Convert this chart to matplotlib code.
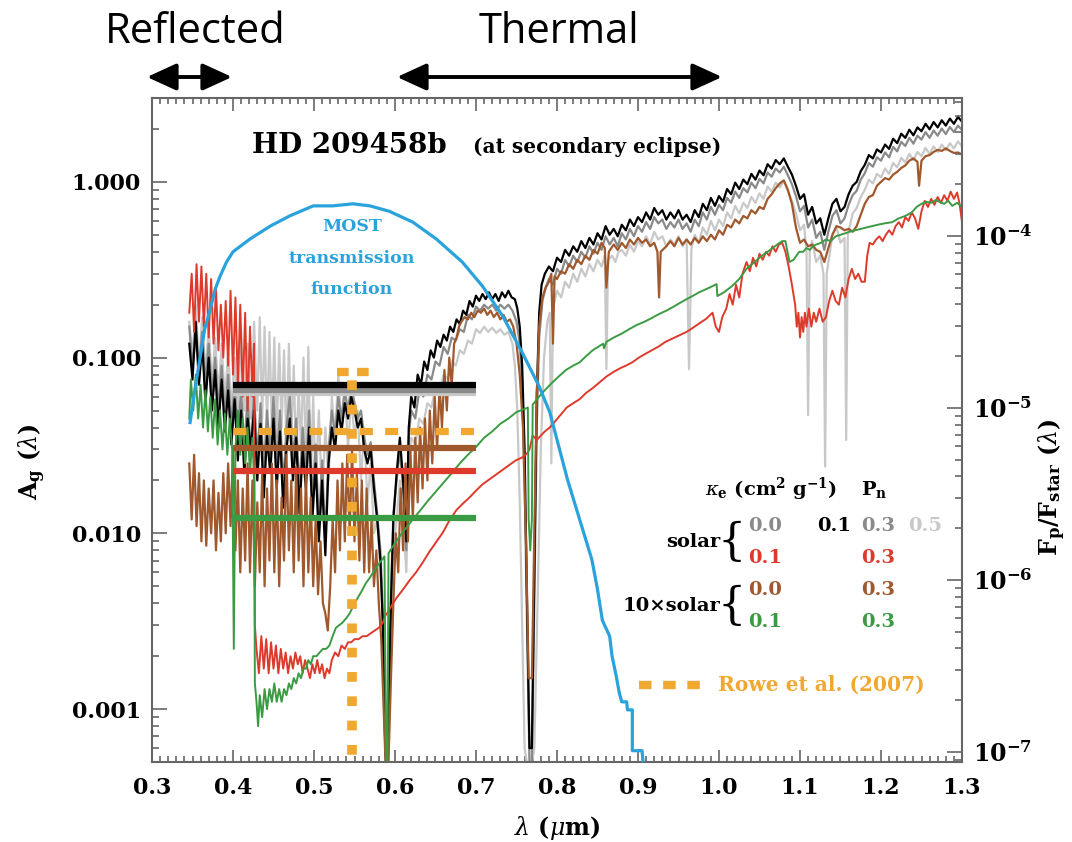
import numpy as np
import matplotlib.pyplot as plt
from matplotlib.patches import FancyArrowPatch
from matplotlib.ticker import MultipleLocator, LogLocator, NullFormatter, FuncFormatter

plt.rcParams['font.family'] = 'DejaVu Serif'
plt.rcParams['mathtext.fontset'] = 'dejavuserif'

# model spectra, (wavelength [um], geometric albedo)
black = [
    (0.346, 0.12), (0.350, 0.075), (0.354, 0.16), (0.358, 0.07), (0.362, 0.12), (0.366, 0.055), (0.370, 0.10), (0.374, 0.05), (0.378, 0.085), (0.382, 0.04),
    (0.386, 0.075), (0.390, 0.038), (0.394, 0.065), (0.398, 0.032), (0.402, 0.058), (0.406, 0.026), (0.410, 0.05), (0.414, 0.022), (0.418, 0.045), (0.422, 0.03),
    (0.426, 0.05), (0.430, 0.02), (0.434, 0.042), (0.438, 0.016), (0.442, 0.036), (0.446, 0.022), (0.450, 0.045), (0.454, 0.018), (0.458, 0.038), (0.462, 0.014),
    (0.466, 0.03), (0.470, 0.045), (0.474, 0.02), (0.478, 0.035), (0.482, 0.013), (0.486, 0.03), (0.490, 0.018), (0.494, 0.04), (0.498, 0.012), (0.502, 0.025),
    (0.506, 0.009), (0.510, 0.02), (0.514, 0.0075), (0.518, 0.025), (0.522, 0.04), (0.526, 0.03), (0.530, 0.05), (0.534, 0.038), (0.538, 0.055), (0.542, 0.045),
    (0.546, 0.06), (0.550, 0.05), (0.554, 0.04), (0.558, 0.045), (0.562, 0.03), (0.566, 0.025), (0.570, 0.03), (0.574, 0.018), (0.578, 0.012), (0.582, 0.007),
    (0.585, 0.003), (0.588, 0.0006), (0.590, 0.0004), (0.592, 0.0008), (0.595, 0.004), (0.598, 0.012),
    (0.602, 0.022), (0.606, 0.035), (0.610, 0.02), (0.614, 0.009), (0.617, 0.04), (0.620, 0.06), (0.624, 0.052), (0.628, 0.08), (0.632, 0.07), (0.636, 0.095),
    (0.640, 0.085), (0.644, 0.11), (0.648, 0.10), (0.652, 0.125), (0.656, 0.115), (0.660, 0.135), (0.664, 0.125), (0.668, 0.15), (0.672, 0.14), (0.676, 0.165),
    (0.680, 0.155), (0.684, 0.185), (0.688, 0.175), (0.692, 0.21), (0.696, 0.195), (0.700, 0.225), (0.704, 0.21), (0.708, 0.23), (0.712, 0.215), (0.716, 0.235),
    (0.720, 0.215), (0.724, 0.23), (0.728, 0.21), (0.732, 0.235), (0.736, 0.22), (0.740, 0.24), (0.744, 0.22), (0.748, 0.215), (0.751, 0.19), (0.754, 0.15),
    (0.757, 0.09), (0.760, 0.03), (0.763, 0.004), (0.766, 0.0006), (0.769, 0.0006), (0.772, 0.006), (0.775, 0.06), (0.778, 0.18), (0.781, 0.26), (0.785, 0.30),
    (0.790, 0.33), (0.795, 0.31), (0.800, 0.37), (0.805, 0.35), (0.810, 0.41), (0.815, 0.38), (0.820, 0.43), (0.825, 0.40), (0.830, 0.46), (0.835, 0.42),
    (0.840, 0.48), (0.845, 0.44), (0.850, 0.51), (0.855, 0.47), (0.860, 0.56), (0.865, 0.50), (0.870, 0.54), (0.875, 0.49), (0.880, 0.57), (0.885, 0.53),
    (0.890, 0.61), (0.895, 0.56), (0.900, 0.63), (0.905, 0.59), (0.910, 0.67), (0.915, 0.61), (0.920, 0.71), (0.925, 0.65), (0.930, 0.69), (0.935, 0.61),
    (0.940, 0.67), (0.945, 0.62), (0.950, 0.69), (0.955, 0.61), (0.960, 0.65), (0.965, 0.59), (0.970, 0.69), (0.975, 0.63), (0.980, 0.75), (0.985, 0.69),
    (0.990, 0.81), (0.995, 0.73), (1.000, 0.83), (1.005, 0.77), (1.010, 0.91), (1.015, 0.85), (1.020, 0.99), (1.025, 0.91), (1.030, 1.03), (1.035, 0.97),
    (1.040, 1.11), (1.045, 1.03), (1.050, 1.16), (1.055, 1.09), (1.060, 1.26), (1.065, 1.19), (1.070, 1.33), (1.075, 1.26), (1.080, 1.36), (1.085, 1.22),
    (1.090, 1.10), (1.095, 0.95), (1.100, 0.80), (1.105, 0.85), (1.110, 0.65), (1.115, 0.72), (1.120, 0.58), (1.125, 0.62), (1.130, 0.50), (1.135, 0.62),
    (1.140, 0.75), (1.145, 0.80), (1.150, 0.68), (1.155, 0.72), (1.160, 0.85), (1.165, 0.95), (1.170, 1.00), (1.175, 1.15), (1.180, 1.25), (1.185, 1.42),
    (1.190, 1.36), (1.195, 1.53), (1.200, 1.47), (1.205, 1.63), (1.210, 1.54), (1.215, 1.76), (1.220, 1.66), (1.225, 1.88), (1.230, 1.78), (1.235, 1.98),
    (1.240, 1.84), (1.245, 2.04), (1.250, 1.94), (1.255, 2.14), (1.260, 1.99), (1.265, 2.19), (1.270, 2.04), (1.275, 2.24), (1.280, 2.09), (1.285, 2.29),
    (1.290, 2.14), (1.295, 2.34), (1.300, 2.20)]

gray = [
    (0.346, 0.15), (0.350, 0.09), (0.354, 0.13), (0.358, 0.085), (0.362, 0.14), (0.366, 0.07), (0.370, 0.12), (0.374, 0.06), (0.378, 0.10), (0.382, 0.05),
    (0.386, 0.09), (0.390, 0.045), (0.394, 0.08), (0.398, 0.04), (0.402, 0.07), (0.406, 0.035), (0.410, 0.065), (0.414, 0.03), (0.418, 0.06), (0.422, 0.028),
    (0.426, 0.065), (0.430, 0.026), (0.434, 0.055), (0.438, 0.022), (0.442, 0.05), (0.446, 0.028), (0.450, 0.06), (0.454, 0.024), (0.458, 0.05), (0.462, 0.018),
    (0.466, 0.04), (0.470, 0.06), (0.474, 0.026), (0.478, 0.045), (0.482, 0.017), (0.486, 0.04), (0.490, 0.022), (0.494, 0.05), (0.498, 0.015), (0.502, 0.032),
    (0.506, 0.011), (0.510, 0.026), (0.514, 0.009), (0.518, 0.03), (0.522, 0.05), (0.526, 0.036), (0.530, 0.06), (0.534, 0.045), (0.538, 0.065), (0.542, 0.05),
    (0.546, 0.07), (0.550, 0.055), (0.554, 0.045), (0.558, 0.05), (0.562, 0.035), (0.566, 0.028), (0.570, 0.033), (0.574, 0.02), (0.578, 0.013), (0.582, 0.008),
    (0.585, 0.0035), (0.588, 0.0007), (0.590, 0.0004), (0.592, 0.0009), (0.595, 0.0045), (0.598, 0.013), (0.602, 0.02), (0.606, 0.03), (0.610, 0.018), (0.614, 0.008),
    (0.617, 0.035), (0.620, 0.05), (0.625, 0.045), (0.630, 0.065), (0.635, 0.06), (0.640, 0.08), (0.645, 0.075), (0.650, 0.095), (0.655, 0.09), (0.660, 0.115),
    (0.665, 0.105), (0.670, 0.13), (0.675, 0.125), (0.680, 0.145), (0.685, 0.14), (0.690, 0.175), (0.695, 0.165), (0.700, 0.195), (0.705, 0.185), (0.710, 0.2),
    (0.715, 0.19), (0.720, 0.2), (0.725, 0.185), (0.730, 0.2), (0.735, 0.19), (0.740, 0.2), (0.745, 0.185), (0.750, 0.16), (0.754, 0.12), (0.757, 0.07),
    (0.760, 0.02), (0.763, 0.003), (0.766, 0.0005), (0.769, 0.0005), (0.772, 0.004), (0.775, 0.04), (0.778, 0.13), (0.782, 0.21), (0.786, 0.25), (0.790, 0.28),
    (0.795, 0.26), (0.800, 0.32), (0.805, 0.30), (0.810, 0.36), (0.815, 0.33), (0.820, 0.38), (0.825, 0.35), (0.830, 0.40), (0.835, 0.37), (0.840, 0.43),
    (0.845, 0.39), (0.850, 0.45), (0.855, 0.41), (0.860, 0.49), (0.865, 0.44), (0.870, 0.48), (0.875, 0.43), (0.880, 0.51), (0.885, 0.47), (0.890, 0.54),
    (0.895, 0.49), (0.900, 0.56), (0.905, 0.52), (0.910, 0.59), (0.915, 0.54), (0.920, 0.63), (0.925, 0.58), (0.930, 0.61), (0.935, 0.54), (0.940, 0.59),
    (0.945, 0.55), (0.950, 0.61), (0.955, 0.54), (0.960, 0.58), (0.965, 0.52), (0.970, 0.61), (0.975, 0.56), (0.980, 0.67), (0.985, 0.61), (0.990, 0.72),
    (0.995, 0.65), (1.000, 0.74), (1.005, 0.69), (1.010, 0.81), (1.015, 0.76), (1.020, 0.88), (1.025, 0.81), (1.030, 0.92), (1.035, 0.87), (1.040, 0.99),
    (1.045, 0.92), (1.050, 1.04), (1.055, 0.98), (1.060, 1.13), (1.065, 1.07), (1.070, 1.19), (1.075, 1.13), (1.080, 1.22), (1.085, 1.09), (1.090, 0.97),
    (1.095, 0.83), (1.100, 0.68), (1.105, 0.73), (1.110, 0.55), (1.115, 0.61), (1.120, 0.48), (1.125, 0.52), (1.130, 0.41), (1.135, 0.52), (1.140, 0.64),
    (1.145, 0.69), (1.150, 0.58), (1.155, 0.62), (1.160, 0.74), (1.165, 0.84), (1.170, 0.89), (1.175, 1.03), (1.180, 1.12), (1.185, 1.28), (1.190, 1.22),
    (1.195, 1.38), (1.200, 1.32), (1.205, 1.47), (1.210, 1.38), (1.215, 1.58), (1.220, 1.49), (1.225, 1.69), (1.230, 1.60), (1.235, 1.78), (1.240, 1.65),
    (1.245, 1.83), (1.250, 1.74), (1.255, 1.92), (1.260, 1.78), (1.265, 1.96), (1.270, 1.83), (1.275, 2.01), (1.280, 1.87), (1.285, 2.05), (1.290, 1.92),
    (1.295, 2.09), (1.300, 1.97)]

lgray = [
    (0.346, 0.16), (0.350, 0.10), (0.354, 0.2), (0.358, 0.09), (0.362, 0.17), (0.366, 0.08), (0.370, 0.15), (0.374, 0.07), (0.378, 0.13), (0.382, 0.06),
    (0.386, 0.12), (0.390, 0.055), (0.394, 0.11), (0.398, 0.05), (0.402, 0.10), (0.406, 0.045), (0.410, 0.14), (0.414, 0.05), (0.418, 0.12), (0.422, 0.045),
    (0.426, 0.16), (0.430, 0.05), (0.433, 0.17), (0.436, 0.045), (0.439, 0.15), (0.442, 0.04), (0.445, 0.14), (0.448, 0.04), (0.451, 0.13), (0.454, 0.035),
    (0.457, 0.12), (0.460, 0.04), (0.463, 0.11), (0.466, 0.03), (0.469, 0.12), (0.472, 0.035), (0.475, 0.09), (0.478, 0.025), (0.481, 0.07), (0.484, 0.03),
    (0.487, 0.10), (0.490, 0.025), (0.493, 0.115), (0.496, 0.02), (0.499, 0.06), (0.502, 0.018), (0.506, 0.05), (0.510, 0.015), (0.514, 0.04), (0.518, 0.02),
    (0.522, 0.06), (0.526, 0.035), (0.530, 0.08), (0.534, 0.04), (0.538, 0.07), (0.542, 0.03), (0.546, 0.06), (0.550, 0.035), (0.554, 0.05), (0.558, 0.02),
    (0.562, 0.04), (0.566, 0.015), (0.570, 0.025), (0.574, 0.01), (0.578, 0.012), (0.582, 0.006), (0.585, 0.003), (0.588, 0.0006), (0.590, 0.0004), (0.592, 0.0008),
    (0.595, 0.003), (0.598, 0.008), (0.602, 0.012), (0.606, 0.02), (0.610, 0.012), (0.614, 0.006), (0.617, 0.025), (0.620, 0.035), (0.625, 0.032), (0.630, 0.045),
    (0.635, 0.042), (0.640, 0.055), (0.645, 0.052), (0.650, 0.068), (0.655, 0.064), (0.660, 0.08), (0.665, 0.076), (0.670, 0.095), (0.675, 0.09), (0.680, 0.11),
    (0.685, 0.105), (0.690, 0.125), (0.695, 0.12), (0.700, 0.145), (0.705, 0.138), (0.710, 0.15), (0.715, 0.14), (0.720, 0.148), (0.725, 0.138), (0.730, 0.145),
    (0.735, 0.135), (0.740, 0.14), (0.745, 0.12), (0.748, 0.09), (0.751, 0.05), (0.754, 0.015), (0.757, 0.003), (0.760, 0.0006), (0.766, 0.0004), (0.772, 0.0006),
    (0.776, 0.004), (0.780, 0.03), (0.784, 0.10), (0.788, 0.16), (0.791, 0.18), (0.793, 0.025), (0.795, 0.19), (0.800, 0.24), (0.805, 0.22), (0.810, 0.27),
    (0.815, 0.25), (0.820, 0.30), (0.825, 0.27), (0.830, 0.32), (0.835, 0.29), (0.840, 0.34), (0.845, 0.31), (0.850, 0.36), (0.855, 0.33), (0.859, 0.38),
    (0.861, 0.086), (0.863, 0.36), (0.868, 0.38), (0.872, 0.35), (0.876, 0.40), (0.880, 0.41), (0.885, 0.38), (0.890, 0.44), (0.895, 0.40), (0.900, 0.46),
    (0.905, 0.43), (0.910, 0.49), (0.915, 0.44), (0.920, 0.52), (0.925, 0.47), (0.930, 0.49), (0.935, 0.43), (0.940, 0.47), (0.945, 0.44), (0.950, 0.49),
    (0.955, 0.43), (0.960, 0.47), (0.963, 0.086), (0.966, 0.42), (0.970, 0.50), (0.975, 0.45), (0.980, 0.55), (0.985, 0.50), (0.990, 0.60), (0.995, 0.53),
    (1.000, 0.61), (1.005, 0.56), (1.010, 0.67), (1.015, 0.62), (1.020, 0.73), (1.025, 0.66), (1.030, 0.76), (1.035, 0.71), (1.040, 0.82), (1.045, 0.76),
    (1.050, 0.86), (1.055, 0.80), (1.060, 0.94), (1.065, 0.88), (1.070, 0.99), (1.075, 0.93), (1.080, 1.01), (1.085, 0.89), (1.090, 0.78), (1.095, 0.66),
    (1.100, 0.53), (1.105, 0.57), (1.108, 0.40), (1.110, 0.047), (1.112, 0.40), (1.115, 0.46), (1.120, 0.35), (1.125, 0.38), (1.129, 0.30), (1.131, 0.024),
    (1.133, 0.30), (1.137, 0.40), (1.140, 0.50), (1.145, 0.55), (1.150, 0.45), (1.155, 0.48), (1.157, 0.034), (1.159, 0.50), (1.165, 0.66), (1.170, 0.71),
    (1.175, 0.82), (1.180, 0.90), (1.185, 1.03), (1.190, 0.98), (1.195, 1.11), (1.200, 1.06), (1.205, 1.19), (1.210, 1.11), (1.215, 1.28), (1.220, 1.21),
    (1.225, 1.37), (1.230, 1.29), (1.235, 1.44), (1.240, 1.33), (1.245, 1.48), (1.250, 1.40), (1.255, 1.56), (1.260, 1.44), (1.265, 1.59), (1.270, 1.48),
    (1.275, 1.63), (1.280, 1.51), (1.285, 1.66), (1.290, 1.55), (1.295, 1.70), (1.300, 1.59)]

brown = [
    (0.346, 0.025), (0.349, 0.012), (0.352, 0.028), (0.355, 0.011), (0.358, 0.022), (0.361, 0.009), (0.364, 0.02), (0.367, 0.0085), (0.370, 0.018), (0.373, 0.01),
    (0.376, 0.02), (0.379, 0.008), (0.382, 0.017), (0.385, 0.009), (0.388, 0.022), (0.391, 0.01), (0.394, 0.025), (0.397, 0.011), (0.400, 0.03), (0.403, 0.008),
    (0.406, 0.02), (0.409, 0.006), (0.412, 0.018), (0.415, 0.007), (0.418, 0.025), (0.421, 0.006), (0.424, 0.02), (0.427, 0.005), (0.430, 0.015), (0.433, 0.006),
    (0.436, 0.022), (0.439, 0.005), (0.442, 0.018), (0.445, 0.007), (0.448, 0.025), (0.451, 0.006), (0.454, 0.02), (0.457, 0.005), (0.460, 0.016), (0.463, 0.007),
    (0.466, 0.028), (0.469, 0.008), (0.472, 0.02), (0.475, 0.006), (0.478, 0.024), (0.481, 0.007), (0.484, 0.018), (0.487, 0.005), (0.490, 0.022), (0.493, 0.006),
    (0.496, 0.016), (0.499, 0.005), (0.502, 0.012), (0.505, 0.0045), (0.508, 0.009), (0.511, 0.004), (0.514, 0.0035), (0.517, 0.0028), (0.520, 0.005), (0.523, 0.012),
    (0.526, 0.006), (0.529, 0.02), (0.532, 0.008), (0.535, 0.025), (0.538, 0.009), (0.541, 0.028), (0.544, 0.01), (0.547, 0.03), (0.550, 0.009), (0.553, 0.022),
    (0.556, 0.007), (0.559, 0.02), (0.562, 0.006), (0.565, 0.018), (0.568, 0.006), (0.571, 0.012), (0.574, 0.005), (0.577, 0.008), (0.580, 0.004), (0.583, 0.0025),
    (0.586, 0.001), (0.589, 0.0004), (0.592, 0.0005), (0.595, 0.0015), (0.598, 0.004), (0.601, 0.01), (0.604, 0.006), (0.607, 0.018), (0.610, 0.008), (0.613, 0.025),
    (0.616, 0.009), (0.619, 0.03), (0.622, 0.012), (0.625, 0.035), (0.628, 0.015), (0.631, 0.04), (0.634, 0.018), (0.637, 0.045), (0.640, 0.02), (0.643, 0.05),
    (0.646, 0.025), (0.649, 0.06), (0.652, 0.03), (0.655, 0.07), (0.658, 0.04), (0.661, 0.085), (0.664, 0.05), (0.667, 0.10), (0.670, 0.07), (0.673, 0.12),
    (0.676, 0.13), (0.679, 0.15), (0.682, 0.16), (0.686, 0.17), (0.690, 0.165), (0.694, 0.18), (0.698, 0.17), (0.702, 0.185), (0.706, 0.18), (0.710, 0.19),
    (0.714, 0.175), (0.718, 0.185), (0.722, 0.17), (0.726, 0.18), (0.730, 0.165), (0.734, 0.175), (0.738, 0.16), (0.742, 0.165), (0.746, 0.15), (0.750, 0.12),
    (0.754, 0.08), (0.758, 0.04), (0.762, 0.008), (0.765, 0.0015), (0.769, 0.0015), (0.772, 0.01), (0.775, 0.06), (0.778, 0.15), (0.782, 0.22), (0.786, 0.25),
    (0.790, 0.27), (0.793, 0.30), (0.795, 0.12), (0.797, 0.29), (0.800, 0.28), (0.805, 0.31), (0.810, 0.30), (0.815, 0.34), (0.820, 0.32), (0.825, 0.36),
    (0.830, 0.34), (0.835, 0.38), (0.840, 0.36), (0.845, 0.41), (0.850, 0.39), (0.855, 0.45), (0.859, 0.42), (0.861, 0.25), (0.864, 0.40), (0.870, 0.44),
    (0.875, 0.41), (0.880, 0.45), (0.885, 0.42), (0.890, 0.47), (0.895, 0.44), (0.900, 0.48), (0.905, 0.45), (0.910, 0.47), (0.915, 0.43), (0.920, 0.45),
    (0.924, 0.40), (0.926, 0.22), (0.928, 0.40), (0.935, 0.43), (0.940, 0.46), (0.945, 0.43), (0.950, 0.48), (0.955, 0.44), (0.960, 0.47), (0.965, 0.44),
    (0.970, 0.48), (0.975, 0.45), (0.980, 0.49), (0.985, 0.46), (0.990, 0.50), (0.995, 0.47), (1.000, 0.53), (1.005, 0.50), (1.010, 0.57), (1.015, 0.55),
    (1.020, 0.61), (1.025, 0.58), (1.030, 0.64), (1.035, 0.62), (1.040, 0.69), (1.045, 0.66), (1.050, 0.72), (1.055, 0.70), (1.060, 0.80), (1.065, 0.85),
    (1.070, 0.92), (1.075, 0.98), (1.080, 1.02), (1.085, 0.90), (1.090, 0.75), (1.095, 0.55), (1.100, 0.45), (1.105, 0.47), (1.110, 0.43), (1.115, 0.44),
    (1.120, 0.41), (1.125, 0.40), (1.130, 0.35), (1.135, 0.42), (1.140, 0.50), (1.145, 0.56), (1.150, 0.55), (1.155, 0.53), (1.160, 0.54), (1.165, 0.52),
    (1.170, 0.56), (1.175, 0.65), (1.180, 0.75), (1.185, 0.82), (1.190, 0.84), (1.195, 0.95), (1.200, 1.0), (1.205, 1.05), (1.210, 1.03), (1.215, 1.10),
    (1.220, 1.14), (1.225, 1.20), (1.230, 1.24), (1.235, 1.32), (1.240, 1.36), (1.245, 1.30), (1.247, 0.95), (1.250, 1.32), (1.255, 1.40), (1.260, 1.42),
    (1.265, 1.48), (1.270, 1.52), (1.275, 1.50), (1.280, 1.55), (1.285, 1.50), (1.290, 1.46), (1.295, 1.47), (1.300, 1.43)]

red = [
    (0.346, 0.18), (0.349, 0.30), (0.352, 0.14), (0.355, 0.34), (0.358, 0.16), (0.361, 0.33), (0.364, 0.15), (0.367, 0.30), (0.370, 0.13), (0.373, 0.28),
    (0.376, 0.12), (0.379, 0.25), (0.382, 0.11), (0.385, 0.20), (0.388, 0.10), (0.391, 0.21), (0.394, 0.09), (0.397, 0.24), (0.400, 0.08), (0.403, 0.22),
    (0.406, 0.07), (0.409, 0.20), (0.412, 0.06), (0.415, 0.18), (0.418, 0.05), (0.421, 0.15), (0.424, 0.06), (0.426, 0.12), (0.427, 0.003), (0.429, 0.0022),
    (0.432, 0.0016), (0.435, 0.0026), (0.438, 0.0017), (0.441, 0.0025), (0.444, 0.0016), (0.447, 0.0024), (0.450, 0.0017), (0.453, 0.0023), (0.456, 0.0016), (0.459, 0.0022),
    (0.462, 0.0017), (0.465, 0.0021), (0.468, 0.0016), (0.471, 0.002), (0.474, 0.0017), (0.477, 0.0021), (0.480, 0.0018), (0.483, 0.002), (0.486, 0.0016), (0.489, 0.0019),
    (0.492, 0.0017), (0.495, 0.0015), (0.498, 0.0018), (0.501, 0.0016), (0.504, 0.0019), (0.507, 0.0016), (0.510, 0.0018), (0.513, 0.0015), (0.516, 0.0017), (0.519, 0.0016),
    (0.522, 0.0019), (0.526, 0.0021), (0.530, 0.002), (0.534, 0.0023), (0.538, 0.0022), (0.542, 0.0024), (0.546, 0.0024), (0.550, 0.0025), (0.555, 0.0025), (0.560, 0.0026),
    (0.565, 0.0026), (0.570, 0.0027), (0.575, 0.0028), (0.580, 0.0029), (0.585, 0.0031), (0.588, 0.0034), (0.592, 0.0036), (0.596, 0.0039), (0.602, 0.0043), (0.610, 0.0048),
    (0.618, 0.0054), (0.626, 0.006), (0.634, 0.0068), (0.642, 0.0078), (0.650, 0.0088), (0.659, 0.0101), (0.667, 0.0118), (0.676, 0.0136), (0.684, 0.0148), (0.692, 0.016),
    (0.700, 0.0175), (0.708, 0.019), (0.716, 0.0202), (0.724, 0.0215), (0.733, 0.023), (0.741, 0.0245), (0.749, 0.026), (0.757, 0.027), (0.763, 0.0285), (0.766, 0.03),
    (0.770, 0.036), (0.775, 0.034), (0.780, 0.036), (0.785, 0.038), (0.791, 0.040), (0.797, 0.043), (0.804, 0.047), (0.812, 0.052), (0.820, 0.055), (0.828, 0.058),
    (0.836, 0.063), (0.844, 0.067), (0.852, 0.072), (0.861, 0.078), (0.870, 0.083), (0.878, 0.087), (0.885, 0.09), (0.893, 0.094), (0.901, 0.10), (0.909, 0.105),
    (0.917, 0.11), (0.926, 0.116), (0.934, 0.123), (0.942, 0.128), (0.951, 0.134), (0.960, 0.14), (0.968, 0.148), (0.976, 0.157), (0.984, 0.166), (0.992, 0.18),
    (0.996, 0.15), (1.000, 0.14), (1.004, 0.17), (1.009, 0.19), (1.013, 0.23), (1.017, 0.20), (1.021, 0.26), (1.025, 0.22), (1.029, 0.30), (1.034, 0.35),
    (1.038, 0.31), (1.042, 0.37), (1.046, 0.33), (1.050, 0.39), (1.054, 0.36), (1.058, 0.40), (1.062, 0.38), (1.066, 0.43), (1.070, 0.40), (1.074, 0.44),
    (1.078, 0.45), (1.082, 0.40), (1.086, 0.33), (1.090, 0.26), (1.094, 0.20), (1.096, 0.15), (1.098, 0.18), (1.100, 0.13), (1.102, 0.17), (1.104, 0.14),
    (1.106, 0.18), (1.108, 0.15), (1.111, 0.19), (1.114, 0.15), (1.117, 0.18), (1.120, 0.16), (1.124, 0.19), (1.128, 0.16), (1.132, 0.17), (1.136, 0.21),
    (1.140, 0.24), (1.144, 0.21), (1.148, 0.20), (1.152, 0.25), (1.156, 0.22), (1.160, 0.28), (1.164, 0.32), (1.168, 0.28), (1.172, 0.30), (1.176, 0.27),
    (1.180, 0.27), (1.183, 0.38), (1.186, 0.45), (1.190, 0.44), (1.194, 0.47), (1.198, 0.49), (1.202, 0.46), (1.206, 0.50), (1.210, 0.53), (1.214, 0.50),
    (1.218, 0.56), (1.222, 0.59), (1.226, 0.55), (1.230, 0.63), (1.234, 0.60), (1.238, 0.67), (1.242, 0.62), (1.246, 0.54), (1.250, 0.68), (1.254, 0.78),
    (1.258, 0.72), (1.262, 0.80), (1.266, 0.74), (1.270, 0.82), (1.274, 0.76), (1.278, 0.84), (1.282, 0.78), (1.286, 0.88), (1.290, 0.80), (1.294, 0.87),
    (1.297, 0.75), (1.300, 0.59)]

green = [
    (0.346, 0.045), (0.348, 0.075), (0.351, 0.05), (0.354, 0.08), (0.357, 0.045), (0.360, 0.07), (0.363, 0.04), (0.366, 0.065), (0.369, 0.038), (0.372, 0.06),
    (0.375, 0.035), (0.378, 0.058), (0.381, 0.032), (0.384, 0.05), (0.387, 0.03), (0.390, 0.048), (0.393, 0.028), (0.396, 0.045), (0.399, 0.03), (0.401, 0.0022),
    (0.403, 0.03), (0.406, 0.05), (0.409, 0.028), (0.412, 0.045), (0.415, 0.025), (0.418, 0.04), (0.421, 0.022), (0.424, 0.035), (0.426, 0.02), (0.427, 0.0014),
    (0.429, 0.0011), (0.431, 0.0008), (0.433, 0.0012), (0.436, 0.0009), (0.439, 0.0013), (0.442, 0.001), (0.445, 0.0013), (0.448, 0.0011), (0.451, 0.0014), (0.454, 0.0011),
    (0.457, 0.0013), (0.460, 0.0011), (0.463, 0.0013), (0.466, 0.0012), (0.469, 0.0014), (0.472, 0.0013), (0.475, 0.0015), (0.478, 0.0014), (0.481, 0.0016), (0.484, 0.0015),
    (0.487, 0.0017), (0.490, 0.0017), (0.493, 0.0019), (0.496, 0.0018), (0.499, 0.002), (0.503, 0.002), (0.507, 0.0021), (0.511, 0.0022), (0.515, 0.0022), (0.519, 0.0023),
    (0.523, 0.0026), (0.527, 0.0029), (0.531, 0.003), (0.535, 0.0031), (0.540, 0.0033), (0.544, 0.0035), (0.549, 0.0039), (0.554, 0.0043), (0.559, 0.0047), (0.564, 0.0052),
    (0.569, 0.0056), (0.574, 0.0061), (0.579, 0.0066), (0.584, 0.0071), (0.587, 0.0074), (0.5885, 0.001), (0.589, 0.0003), (0.5905, 0.0003), (0.591, 0.001), (0.592, 0.0077),
    (0.600, 0.0088), (0.610, 0.0102), (0.620, 0.0117), (0.630, 0.0133), (0.640, 0.0152), (0.650, 0.0172), (0.660, 0.0195), (0.670, 0.022), (0.680, 0.025), (0.690, 0.028),
    (0.700, 0.031), (0.710, 0.035), (0.720, 0.038), (0.730, 0.042), (0.740, 0.045), (0.750, 0.049), (0.760, 0.051), (0.764, 0.052), (0.765, 0.012), (0.767, 0.008),
    (0.769, 0.012), (0.770, 0.054), (0.778, 0.06), (0.786, 0.066), (0.794, 0.072), (0.802, 0.078), (0.811, 0.085), (0.820, 0.09), (0.828, 0.094), (0.836, 0.102),
    (0.844, 0.11), (0.852, 0.116), (0.857, 0.12), (0.858, 0.113), (0.861, 0.123), (0.870, 0.13), (0.880, 0.137), (0.889, 0.145), (0.898, 0.153), (0.908, 0.16),
    (0.917, 0.168), (0.926, 0.177), (0.935, 0.185), (0.944, 0.195), (0.952, 0.205), (0.960, 0.215), (0.968, 0.225), (0.976, 0.236), (0.984, 0.245), (0.992, 0.255),
    (0.997, 0.262), (0.998, 0.224), (1.006, 0.235), (1.016, 0.255), (1.025, 0.28), (1.034, 0.32), (1.044, 0.35), (1.053, 0.38), (1.060, 0.40), (1.066, 0.42),
    (1.072, 0.44), (1.078, 0.46), (1.082, 0.46), (1.087, 0.35), (1.092, 0.36), (1.099, 0.40), (1.104, 0.40), (1.108, 0.42), (1.112, 0.41), (1.116, 0.43),
    (1.120, 0.44), (1.126, 0.45), (1.132, 0.47), (1.138, 0.46), (1.144, 0.49), (1.150, 0.50), (1.156, 0.51), (1.161, 0.52), (1.168, 0.53), (1.175, 0.54),
    (1.182, 0.55), (1.189, 0.56), (1.196, 0.57), (1.204, 0.58), (1.214, 0.59), (1.222, 0.62), (1.230, 0.64), (1.238, 0.67), (1.244, 0.72), (1.250, 0.75),
    (1.256, 0.77), (1.262, 0.76), (1.268, 0.79), (1.272, 0.77), (1.278, 0.75), (1.283, 0.78), (1.288, 0.73), (1.294, 0.76), (1.300, 0.72)]

# MOST transmission function (arbitrary units, drawn on the albedo scale)
most_wl = [0.347, 0.353, 0.359, 0.365, 0.372, 0.378, 0.384, 0.392, 0.400, 0.421, 0.446, 0.470, 0.499, 0.523, 0.548, 0.569,
           0.593, 0.622, 0.651, 0.683, 0.708, 0.733, 0.757, 0.778, 0.791, 0.813, 0.843, 0.850, 0.856, 0.865, 0.868,
           0.873, 0.877, 0.880, 0.886, 0.887, 0.893, 0.893, 0.905, 0.907]
most_t = [0.0427, 0.0659, 0.0974, 0.145, 0.189, 0.245, 0.29, 0.35, 0.40, 0.473, 0.56, 0.64, 0.73, 0.73, 0.75, 0.73,
          0.68, 0.59, 0.473, 0.35, 0.255, 0.172, 0.107, 0.0685, 0.049, 0.0202, 0.0071, 0.0048, 0.0032, 0.0026, 0.0020,
          0.00155, 0.00123, 0.0011, 0.0011, 0.00099, 0.00099, 0.00058, 0.00058, 0.00045]

# band-averaged albedos of the models over the MOST band
band = [0.4, 0.7]
band_albedo = [0.0625, 0.0655, 0.070, 0.0304, 0.0225, 0.0123]

# Rowe et al. (2007)
rowe_mean = 0.038
rowe_limit = 0.083
rowe_wl = 0.547

c_black = 'black'
c_gray = '#8a8a8a'
c_lgray = '#c8c8c8'
c_brown = '#a0582d'
c_red = '#de3a2c'
c_green = '#3b9b42'
c_blue = '#2aa3dc'
c_orange = '#f0a830'


def xy(pairs):
    a = np.array(pairs)
    return a[:, 0], a[:, 1]


fig = plt.figure(figsize=(10.72, 8.42), dpi=100)
ax = fig.add_axes([152 / 1072, 80 / 842, 810 / 1072, 664 / 842])

ax.plot(*xy(lgray), color=c_lgray, lw=1.6, zorder=2)
ax.plot(*xy(gray), color=c_gray, lw=1.6, zorder=2.1)
ax.plot(*xy(black), color=c_black, lw=1.6, zorder=2.2)
ax.plot(*xy(brown), color=c_brown, lw=1.6, zorder=2.3)
ax.plot(*xy(red), color=c_red, lw=1.4, zorder=2.4)
ax.plot(*xy(green), color=c_green, lw=1.4, zorder=2.5)
ax.plot(most_wl, most_t, color=c_blue, lw=2.3, zorder=3)

bar_cols = [c_lgray, c_gray, c_black, c_brown, c_red, c_green]
for val, col in zip(band_albedo, bar_cols):
    ax.plot(band, [val, val], color=col, lw=4.5, solid_capstyle='butt', zorder=4)

ax.plot(band, [rowe_mean, rowe_mean], color=c_orange, lw=5.2, ls=(0, (1.8, 1.7)), zorder=5)
ax.plot([rowe_wl, rowe_wl], [4e-4, rowe_limit], color=c_orange, lw=7, ls=(0, (1.0, 1.5)), zorder=5)
ax.plot([0.528, 0.568], [rowe_limit, rowe_limit], color=c_orange, lw=6, ls=(0, (1.4, 1.0)), zorder=5)

ax.set_yscale('log')
ax.set_xlim(0.3, 1.3)
ax.set_ylim(5e-4, 3.0)
ax.xaxis.set_major_locator(MultipleLocator(0.1))
ax.xaxis.set_minor_locator(MultipleLocator(0.01))
ax.xaxis.set_major_formatter(FuncFormatter(lambda v, p: '%.1f' % v))
ax.yaxis.set_major_locator(LogLocator(base=10))
ax.yaxis.set_minor_locator(LogLocator(base=10, subs=np.arange(2, 10)))
ax.yaxis.set_major_formatter(FuncFormatter(lambda v, p: '%.3f' % v))
ax.yaxis.set_minor_formatter(NullFormatter())
ax.tick_params(which='both', direction='in', top=True, right=False, color='#666666', width=1.2, labelsize=16)
ax.tick_params(axis='y', which='major', length=10.5, pad=8)
ax.tick_params(axis='y', which='minor', length=5)
ax.tick_params(axis='x', which='major', length=9, pad=11)
ax.tick_params(axis='x', which='minor', length=4.5)
for lab in ax.get_xticklabels() + ax.get_yticklabels():
    lab.set_fontweight('bold')
for s in ax.spines.values():
    s.set_color('#666666')
    s.set_linewidth(1.5)

ax.set_xlabel(r'$\lambda$ ($\mu$m)', fontsize=17, fontweight='bold', va='center')
ax.xaxis.set_label_coords(0.5, -0.099)
ax.set_ylabel(r'A$_\mathbf{g}$ ($\lambda$)', fontsize=17, fontweight='bold', va='center')
ax.yaxis.set_label_coords(-0.148, 0.452)

ax2 = ax.twinx()
ax2.set_yscale('log')
ax2.set_ylim(10 ** -7.058, 10 ** -3.198)
ax2.yaxis.set_major_locator(LogLocator(base=10))
ax2.yaxis.set_major_formatter(FuncFormatter(lambda v, p: r'$\mathbf{10^{%d}}$' % round(np.log10(v))))
ax2.yaxis.set_minor_locator(LogLocator(base=10, subs=np.arange(2, 10)))
ax2.yaxis.set_minor_formatter(NullFormatter())
ax2.tick_params(which='both', direction='in', color='#666666', width=1.2, labelsize=17)
ax2.tick_params(which='major', length=10.5, pad=8)
ax2.tick_params(which='minor', length=5)
for s in ax2.spines.values():
    s.set_visible(False)
ax2.set_ylabel(r'F$_\mathbf{p}$/F$_\mathbf{star}$ ($\lambda$)', fontsize=17, fontweight='bold',
               rotation=90, va='center')
ax2.yaxis.set_label_coords(1.111, 0.413)

# labels inside the plot
T = ax.transAxes
ax.text(0.1235, 0.917, 'HD 209458b', fontsize=20, fontweight='bold', va='baseline', transform=T)
ax.text(0.396, 0.917, '(at secondary eclipse)', fontsize=14.5, fontweight='bold', va='baseline', transform=T)
for yy, s in zip([0.806, 0.759, 0.711], ['MOST', 'transmission', 'function']):
    ax.text(0.247, yy, s, fontsize=12.5, fontweight='bold', color=c_blue, ha='center', va='center', transform=T)

kw = dict(fontsize=14, fontweight='bold', va='center', transform=T)
ax.text(0.683, 0.411, r'$\kappa_\mathbf{e}$ (cm$^\mathbf{2}$ g$^\mathbf{-1}$)', **kw)
ax.text(0.875, 0.411, r'P$_\mathbf{n}$', **kw)
ax.text(0.702, 0.331, 'solar', ha='right', **kw)
ax.text(0.702, 0.235, '10\u00d7solar', ha='right', **kw)
for yb in [0.331, 0.235]:
    ax.text(0.716, yb, '{', fontsize=32, ha='center', va='center', transform=T)
rows = [(0.355, [(0.736, '0.0', c_gray), (0.821, '0.1', c_black), (0.875, '0.3', c_gray), (0.933, '0.5', c_lgray)]),
        (0.307, [(0.736, '0.1', c_red), (0.875, '0.3', c_red)]),
        (0.259, [(0.736, '0.0', c_brown), (0.875, '0.3', c_brown)]),
        (0.211, [(0.736, '0.1', c_green), (0.875, '0.3', c_green)])]
for yr, items in rows:
    for xr, s, col in items:
        ax.text(xr, yr, s, color=col, **kw)
ax.plot([0.601, 0.678], [0.116, 0.116], transform=T, color=c_orange, lw=6, ls=(0, (1.5, 1.4)), clip_on=False)
ax.text(0.699, 0.116, 'Rowe et al. (2007)', color=c_orange, fontsize=14.5, fontweight='bold', va='center', transform=T)

# regions above the plot
fig.text(195 / 1072, 1 - 32 / 842, 'Reflected', family='Open Sans', fontsize=30, ha='center', va='center')
fig.text(559 / 1072, 1 - 32 / 842, 'Thermal', family='Open Sans', fontsize=30, ha='center', va='center')
for x0, x1 in [(147, 232), (397, 722)]:
    arr = FancyArrowPatch((x0 / 1072, 1 - 77 / 842), (x1 / 1072, 1 - 77 / 842), transform=fig.transFigure,
                          arrowstyle='<|-|>,head_length=1.2,head_width=0.55', mutation_scale=15,
                          lw=2.8, color='black', shrinkA=0, shrinkB=0)
    fig.patches.append(arr)

plt.savefig('out.png', dpi=100)
